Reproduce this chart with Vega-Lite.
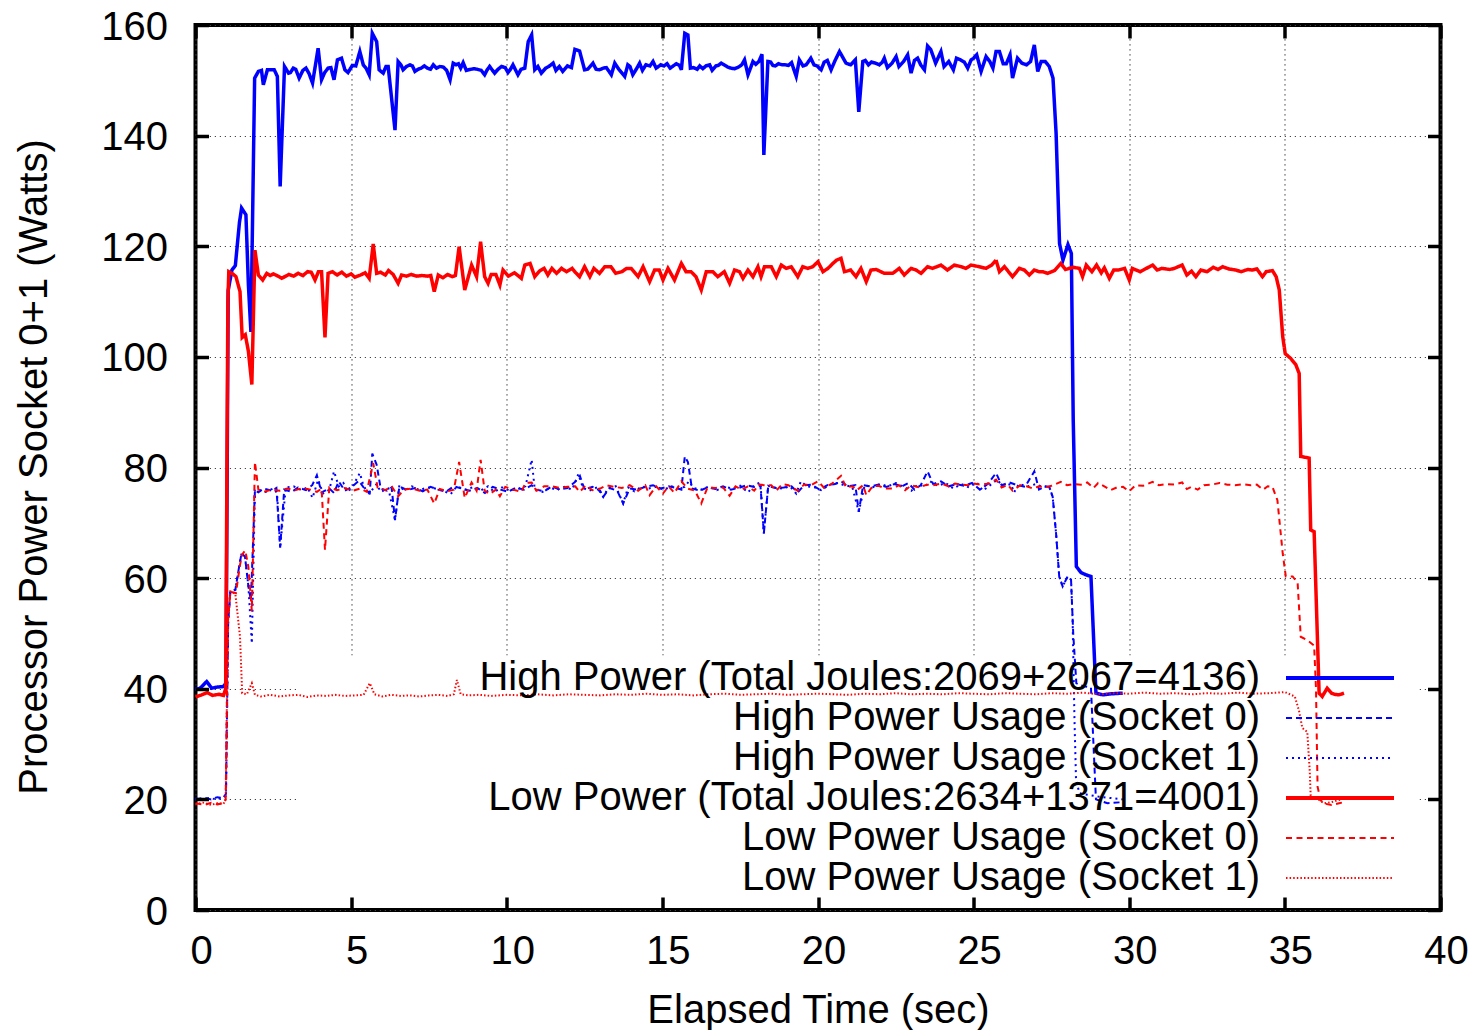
{
"$schema":"https://vega.github.io/schema/vega-lite/v6.json",
"width":1245,"height":885,
"autosize":{"type":"none"},
"padding":{"left":195.5,"top":25,"right":33.5,"bottom":120},
"background":"white",
"config":{
 "font":"Liberation Sans",
 "view":{"stroke":"black","strokeWidth":4},
 "axis":{"labelFont":"Liberation Sans","titleFont":"Liberation Sans","labelFontSize":40,"titleFontSize":40,"labelColor":"black","titleColor":"black","titleFontWeight":"normal","tickColor":"black","tickWidth":3.5,"tickSize":-13,"domain":false,"labelFlush":false,"labelOverlap":false,"gridColor":"#444444","gridDash":[1.2,3.8],"gridWidth":1.2,"gridOpacity":1}
},
"data":{"values":[
{"s":"H","t":0,"w":39.9},{"s":"H","t":0.15,"w":40.1},{"s":"H","t":0.36,"w":41.3},{"s":"H","t":0.52,"w":40.1},{"s":"H","t":0.7,"w":40.3},{"s":"H","t":0.89,"w":40.4},{"s":"H","t":0.98,"w":41.0},{"s":"H","t":1.05,"w":112},{"s":"H","t":1.17,"w":115.7},{"s":"H","t":1.28,"w":116.5},{"s":"H","t":1.41,"w":124.2},{"s":"H","t":1.48,"w":126.9},{"s":"H","t":1.62,"w":125.7},{"s":"H","t":1.7,"w":113},{"s":"H","t":1.78,"w":104.5},{"s":"H","t":1.9,"w":150.4},{"s":"H","t":2.02,"w":151.6},{"s":"H","t":2.12,"w":151.8},{"s":"H","t":2.18,"w":149.2},{"s":"H","t":2.31,"w":151.9},{"s":"H","t":2.42,"w":151.9},{"s":"H","t":2.53,"w":151.9},{"s":"H","t":2.63,"w":150.7},{"s":"H","t":2.72,"w":130.8},{"s":"H","t":2.86,"w":152.5},{"s":"H","t":2.99,"w":151.3},{"s":"H","t":3.05,"w":151.4},{"s":"H","t":3.14,"w":152.2},{"s":"H","t":3.22,"w":152},{"s":"H","t":3.33,"w":150.4},{"s":"H","t":3.45,"w":151.8},{"s":"H","t":3.55,"w":152.2},{"s":"H","t":3.65,"w":151.2},{"s":"H","t":3.76,"w":149.5},{"s":"H","t":3.94,"w":155.8},{"s":"H","t":4.05,"w":150.1},{"s":"H","t":4.15,"w":151.4},{"s":"H","t":4.26,"w":152.2},{"s":"H","t":4.35,"w":152.3},{"s":"H","t":4.45,"w":150.1},{"s":"H","t":4.56,"w":153.7},{"s":"H","t":4.69,"w":154.0},{"s":"H","t":4.8,"w":151.9},{"s":"H","t":4.9,"w":151.4},{"s":"H","t":5.04,"w":152.7},{"s":"H","t":5.15,"w":152.6},{"s":"H","t":5.28,"w":155.2},{"s":"H","t":5.39,"w":152.8},{"s":"H","t":5.48,"w":152.2},{"s":"H","t":5.58,"w":151.0},{"s":"H","t":5.68,"w":158.5},{"s":"H","t":5.82,"w":157.0},{"s":"H","t":5.9,"w":151.9},{"s":"H","t":6.03,"w":151.3},{"s":"H","t":6.12,"w":152.5},{"s":"H","t":6.19,"w":152.5},{"s":"H","t":6.41,"w":141.0},{"s":"H","t":6.51,"w":153.4},{"s":"H","t":6.6,"w":152.8},{"s":"H","t":6.67,"w":151.9},{"s":"H","t":6.78,"w":152.5},{"s":"H","t":6.89,"w":152.8},{"s":"H","t":6.97,"w":152.6},{"s":"H","t":7.05,"w":151.6},{"s":"H","t":7.15,"w":152.0},{"s":"H","t":7.25,"w":152.2},{"s":"H","t":7.35,"w":152.6},{"s":"H","t":7.45,"w":152.2},{"s":"H","t":7.55,"w":152.0},{"s":"H","t":7.64,"w":152.8},{"s":"H","t":7.74,"w":152.2},{"s":"H","t":7.85,"w":152.5},{"s":"H","t":7.96,"w":152.4},{"s":"H","t":8.07,"w":151.8},{"s":"H","t":8.18,"w":150.1},{"s":"H","t":8.28,"w":153.1},{"s":"H","t":8.37,"w":152.8},{"s":"H","t":8.45,"w":153.0},{"s":"H","t":8.52,"w":152.2},{"s":"H","t":8.6,"w":153.2},{"s":"H","t":8.7,"w":151.8},{"s":"H","t":8.85,"w":152.0},{"s":"H","t":8.95,"w":152.1},{"s":"H","t":9.05,"w":152.0},{"s":"H","t":9.18,"w":151.8},{"s":"H","t":9.29,"w":151.0},{"s":"H","t":9.36,"w":151.8},{"s":"H","t":9.45,"w":152.5},{"s":"H","t":9.61,"w":151.3},{"s":"H","t":9.72,"w":152.0},{"s":"H","t":9.83,"w":152.5},{"s":"H","t":9.95,"w":152.3},{"s":"H","t":10.04,"w":151.4},{"s":"H","t":10.12,"w":152.0},{"s":"H","t":10.2,"w":152.8},{"s":"H","t":10.36,"w":151.0},{"s":"H","t":10.46,"w":152.0},{"s":"H","t":10.58,"w":152.2},{"s":"H","t":10.69,"w":157.0},{"s":"H","t":10.8,"w":158.2},{"s":"H","t":10.9,"w":151.9},{"s":"H","t":11.0,"w":152.5},{"s":"H","t":11.11,"w":151.3},{"s":"H","t":11.25,"w":152.2},{"s":"H","t":11.35,"w":152.5},{"s":"H","t":11.49,"w":153.1},{"s":"H","t":11.58,"w":151.8},{"s":"H","t":11.69,"w":152.5},{"s":"H","t":11.8,"w":151.6},{"s":"H","t":11.95,"w":152.6},{"s":"H","t":12.08,"w":152.3},{"s":"H","t":12.19,"w":155.6},{"s":"H","t":12.34,"w":155.3},{"s":"H","t":12.5,"w":151.9},{"s":"H","t":12.6,"w":152.0},{"s":"H","t":12.77,"w":153.1},{"s":"H","t":12.87,"w":152.0},{"s":"H","t":12.98,"w":151.9},{"s":"H","t":13.1,"w":152.2},{"s":"H","t":13.2,"w":152.3},{"s":"H","t":13.36,"w":151.0},{"s":"H","t":13.47,"w":153.1},{"s":"H","t":13.6,"w":152.0},{"s":"H","t":13.79,"w":150.7},{"s":"H","t":13.89,"w":152.8},{"s":"H","t":13.96,"w":152.5},{"s":"H","t":14.05,"w":151.0},{"s":"H","t":14.16,"w":152.0},{"s":"H","t":14.27,"w":153.1},{"s":"H","t":14.36,"w":151.8},{"s":"H","t":14.47,"w":152.8},{"s":"H","t":14.6,"w":152.6},{"s":"H","t":14.7,"w":153.4},{"s":"H","t":14.8,"w":152.2},{"s":"H","t":14.95,"w":152.8},{"s":"H","t":15.05,"w":152.6},{"s":"H","t":15.15,"w":153.0},{"s":"H","t":15.25,"w":152.2},{"s":"H","t":15.35,"w":152.6},{"s":"H","t":15.45,"w":153.0},{"s":"H","t":15.55,"w":152.7},{"s":"H","t":15.61,"w":151.9},{"s":"H","t":15.72,"w":158.5},{"s":"H","t":15.82,"w":158.2},{"s":"H","t":15.9,"w":152.2},{"s":"H","t":16.0,"w":152.3},{"s":"H","t":16.12,"w":152.0},{"s":"H","t":16.2,"w":152.6},{"s":"H","t":16.3,"w":152.1},{"s":"H","t":16.4,"w":152.6},{"s":"H","t":16.52,"w":152.8},{"s":"H","t":16.6,"w":151.8},{"s":"H","t":16.72,"w":152.6},{"s":"H","t":16.8,"w":152.7},{"s":"H","t":16.89,"w":153.1},{"s":"H","t":16.98,"w":152.8},{"s":"H","t":17.1,"w":152.4},{"s":"H","t":17.2,"w":152.2},{"s":"H","t":17.32,"w":152.1},{"s":"H","t":17.45,"w":152.4},{"s":"H","t":17.55,"w":152.8},{"s":"H","t":17.64,"w":153.7},{"s":"H","t":17.75,"w":151.0},{"s":"H","t":17.91,"w":153.4},{"s":"H","t":18.0,"w":152.9},{"s":"H","t":18.1,"w":153.4},{"s":"H","t":18.2,"w":154.7},{"s":"H","t":18.26,"w":136.5},{"s":"H","t":18.39,"w":153.4},{"s":"H","t":18.48,"w":153.3},{"s":"H","t":18.55,"w":152.7},{"s":"H","t":18.63,"w":152.6},{"s":"H","t":18.73,"w":153.0},{"s":"H","t":18.85,"w":152.8},{"s":"H","t":18.95,"w":152.8},{"s":"H","t":19.05,"w":152.7},{"s":"H","t":19.15,"w":153.2},{"s":"H","t":19.3,"w":150.7},{"s":"H","t":19.4,"w":153.7},{"s":"H","t":19.52,"w":152.6},{"s":"H","t":19.62,"w":152.8},{"s":"H","t":19.77,"w":154.0},{"s":"H","t":19.87,"w":152.8},{"s":"H","t":19.97,"w":152.6},{"s":"H","t":20.1,"w":151.9},{"s":"H","t":20.2,"w":153.3},{"s":"H","t":20.3,"w":153.6},{"s":"H","t":20.42,"w":151.9},{"s":"H","t":20.55,"w":153.6},{"s":"H","t":20.69,"w":155.2},{"s":"H","t":20.9,"w":153.1},{"s":"H","t":21.05,"w":152.8},{"s":"H","t":21.2,"w":153.7},{"s":"H","t":21.31,"w":144.3},{"s":"H","t":21.44,"w":153.4},{"s":"H","t":21.52,"w":153.6},{"s":"H","t":21.62,"w":152.8},{"s":"H","t":21.72,"w":153.3},{"s":"H","t":21.85,"w":153.1},{"s":"H","t":21.97,"w":152.8},{"s":"H","t":22.07,"w":153.3},{"s":"H","t":22.13,"w":154.0},{"s":"H","t":22.23,"w":152.3},{"s":"H","t":22.38,"w":153.1},{"s":"H","t":22.51,"w":154.3},{"s":"H","t":22.6,"w":152.5},{"s":"H","t":22.75,"w":153.4},{"s":"H","t":22.88,"w":154.6},{"s":"H","t":22.99,"w":151.3},{"s":"H","t":23.1,"w":153.6},{"s":"H","t":23.2,"w":154.0},{"s":"H","t":23.3,"w":152.8},{"s":"H","t":23.42,"w":151.9},{"s":"H","t":23.52,"w":156.2},{"s":"H","t":23.62,"w":155.6},{"s":"H","t":23.78,"w":153.1},{"s":"H","t":23.95,"w":155.2},{"s":"H","t":24.05,"w":152.5},{"s":"H","t":24.2,"w":153.4},{"s":"H","t":24.35,"w":151.9},{"s":"H","t":24.45,"w":154.0},{"s":"H","t":24.58,"w":153.7},{"s":"H","t":24.7,"w":153.3},{"s":"H","t":24.81,"w":152.2},{"s":"H","t":24.92,"w":153.7},{"s":"H","t":25.0,"w":154.0},{"s":"H","t":25.1,"w":154.6},{"s":"H","t":25.24,"w":151.6},{"s":"H","t":25.4,"w":154.3},{"s":"H","t":25.52,"w":153.4},{"s":"H","t":25.62,"w":152.2},{"s":"H","t":25.72,"w":155.2},{"s":"H","t":25.83,"w":155.2},{"s":"H","t":25.95,"w":153.0},{"s":"H","t":26.05,"w":153.0},{"s":"H","t":26.17,"w":154.6},{"s":"H","t":26.25,"w":150.4},{"s":"H","t":26.41,"w":154.0},{"s":"H","t":26.55,"w":153.1},{"s":"H","t":26.7,"w":152.8},{"s":"H","t":26.83,"w":153.4},{"s":"H","t":26.95,"w":156.4},{"s":"H","t":27.06,"w":151.6},{"s":"H","t":27.17,"w":153.4},{"s":"H","t":27.3,"w":153.4},{"s":"H","t":27.43,"w":152.5},{"s":"H","t":27.55,"w":150.4},{"s":"H","t":27.65,"w":140.4},{"s":"H","t":27.76,"w":120.5},{"s":"H","t":27.87,"w":117.5},{"s":"H","t":28.03,"w":120.3},{"s":"H","t":28.14,"w":118.7},{"s":"H","t":28.2,"w":88.6},{"s":"H","t":28.3,"w":62.1},{"s":"H","t":28.45,"w":61.0},{"s":"H","t":28.61,"w":60.6},{"s":"H","t":28.77,"w":60.3},{"s":"H","t":28.93,"w":39.2},{"s":"H","t":29.15,"w":38.9},{"s":"H","t":29.45,"w":39.1},{"s":"H","t":29.79,"w":39.2},
{"s":"H0","t":0,"w":20.0},{"s":"H0","t":0.3,"w":20.3},{"s":"H0","t":0.5,"w":20.0},{"s":"H0","t":0.7,"w":20.4},{"s":"H0","t":0.9,"w":20.2},{"s":"H0","t":0.98,"w":21},{"s":"H0","t":1.05,"w":52},{"s":"H0","t":1.12,"w":57.6},{"s":"H0","t":1.28,"w":57.9},{"s":"H0","t":1.4,"w":62},{"s":"H0","t":1.48,"w":64.5},{"s":"H0","t":1.59,"w":63.9},{"s":"H0","t":1.7,"w":58.5},{"s":"H0","t":1.78,"w":56},{"s":"H0","t":1.91,"w":75.9},{"s":"H0","t":2.02,"w":75.5},{"s":"H0","t":2.2,"w":76.2},{"s":"H0","t":2.45,"w":75.8},{"s":"H0","t":2.6,"w":76.3},{"s":"H0","t":2.72,"w":65.5},{"s":"H0","t":2.85,"w":76.0},{"s":"H0","t":3.1,"w":75.6},{"s":"H0","t":3.3,"w":76.4},{"s":"H0","t":3.55,"w":75.9},{"s":"H0","t":3.75,"w":76.8},{"s":"H0","t":3.9,"w":78.6},{"s":"H0","t":4.05,"w":75.5},{"s":"H0","t":4.3,"w":76.2},{"s":"H0","t":4.45,"w":75.4},{"s":"H0","t":4.6,"w":77.5},{"s":"H0","t":4.8,"w":75.8},{"s":"H0","t":5.0,"w":76.4},{"s":"H0","t":5.25,"w":77.6},{"s":"H0","t":5.45,"w":76.0},{"s":"H0","t":5.6,"w":75.4},{"s":"H0","t":5.68,"w":82.5},{"s":"H0","t":5.82,"w":80.5},{"s":"H0","t":5.95,"w":76.2},{"s":"H0","t":6.15,"w":75.8},{"s":"H0","t":6.3,"w":76.4},{"s":"H0","t":6.41,"w":70.5},{"s":"H0","t":6.55,"w":76.6},{"s":"H0","t":6.8,"w":75.9},{"s":"H0","t":7.05,"w":76.3},{"s":"H0","t":7.3,"w":75.7},{"s":"H0","t":7.55,"w":76.5},{"s":"H0","t":7.8,"w":76.0},{"s":"H0","t":8.05,"w":75.6},{"s":"H0","t":8.3,"w":76.6},{"s":"H0","t":8.55,"w":76.2},{"s":"H0","t":8.8,"w":75.8},{"s":"H0","t":9.05,"w":76.3},{"s":"H0","t":9.3,"w":75.4},{"s":"H0","t":9.55,"w":76.5},{"s":"H0","t":9.8,"w":76.0},{"s":"H0","t":10.05,"w":75.6},{"s":"H0","t":10.3,"w":76.4},{"s":"H0","t":10.55,"w":76.0},{"s":"H0","t":10.8,"w":76.8},{"s":"H0","t":10.95,"w":76.0},{"s":"H0","t":11.2,"w":75.7},{"s":"H0","t":11.45,"w":76.6},{"s":"H0","t":11.7,"w":76.0},{"s":"H0","t":11.95,"w":76.3},{"s":"H0","t":12.2,"w":77.4},{"s":"H0","t":12.35,"w":78.5},{"s":"H0","t":12.5,"w":76.0},{"s":"H0","t":12.75,"w":76.5},{"s":"H0","t":13.0,"w":75.8},{"s":"H0","t":13.1,"w":74.7},{"s":"H0","t":13.3,"w":76.3},{"s":"H0","t":13.55,"w":75.8},{"s":"H0","t":13.74,"w":73.5},{"s":"H0","t":13.95,"w":76.2},{"s":"H0","t":14.2,"w":76.0},{"s":"H0","t":14.45,"w":76.5},{"s":"H0","t":14.7,"w":76.8},{"s":"H0","t":14.95,"w":76.2},{"s":"H0","t":15.2,"w":76.6},{"s":"H0","t":15.45,"w":76.3},{"s":"H0","t":15.61,"w":76.0},{"s":"H0","t":15.72,"w":82.0},{"s":"H0","t":15.82,"w":81.0},{"s":"H0","t":15.95,"w":76.2},{"s":"H0","t":16.2,"w":75.8},{"s":"H0","t":16.45,"w":76.4},{"s":"H0","t":16.7,"w":76.1},{"s":"H0","t":16.95,"w":76.6},{"s":"H0","t":17.2,"w":76.0},{"s":"H0","t":17.45,"w":76.3},{"s":"H0","t":17.7,"w":76.8},{"s":"H0","t":17.95,"w":76.5},{"s":"H0","t":18.15,"w":76.8},{"s":"H0","t":18.26,"w":68.1},{"s":"H0","t":18.4,"w":76.6},{"s":"H0","t":18.65,"w":76.3},{"s":"H0","t":18.9,"w":76.4},{"s":"H0","t":19.15,"w":76.6},{"s":"H0","t":19.35,"w":75.5},{"s":"H0","t":19.55,"w":76.8},{"s":"H0","t":19.8,"w":76.9},{"s":"H0","t":20.05,"w":76.0},{"s":"H0","t":20.3,"w":76.8},{"s":"H0","t":20.55,"w":77.0},{"s":"H0","t":20.75,"w":77.5},{"s":"H0","t":20.95,"w":76.6},{"s":"H0","t":21.2,"w":76.8},{"s":"H0","t":21.31,"w":72.0},{"s":"H0","t":21.45,"w":76.8},{"s":"H0","t":21.7,"w":76.6},{"s":"H0","t":21.95,"w":76.9},{"s":"H0","t":22.2,"w":76.5},{"s":"H0","t":22.45,"w":77.0},{"s":"H0","t":22.7,"w":76.6},{"s":"H0","t":22.9,"w":77.2},{"s":"H0","t":23.1,"w":76.0},{"s":"H0","t":23.3,"w":76.8},{"s":"H0","t":23.52,"w":79.3},{"s":"H0","t":23.7,"w":77.0},{"s":"H0","t":23.95,"w":77.5},{"s":"H0","t":24.2,"w":76.6},{"s":"H0","t":24.45,"w":77.0},{"s":"H0","t":24.7,"w":76.7},{"s":"H0","t":24.95,"w":77.2},{"s":"H0","t":25.2,"w":76.0},{"s":"H0","t":25.45,"w":77.0},{"s":"H0","t":25.72,"w":79.0},{"s":"H0","t":25.9,"w":76.8},{"s":"H0","t":26.15,"w":77.3},{"s":"H0","t":26.4,"w":76.8},{"s":"H0","t":26.65,"w":76.5},{"s":"H0","t":26.95,"w":79.3},{"s":"H0","t":27.1,"w":76.0},{"s":"H0","t":27.3,"w":76.6},{"s":"H0","t":27.43,"w":76.5},{"s":"H0","t":27.54,"w":74.7},{"s":"H0","t":27.65,"w":68},{"s":"H0","t":27.75,"w":60.3},{"s":"H0","t":27.86,"w":58.5},{"s":"H0","t":28.02,"w":60.3},{"s":"H0","t":28.13,"w":59.7},{"s":"H0","t":28.2,"w":50},{"s":"H0","t":28.3,"w":41},{"s":"H0","t":28.45,"w":40.6},{"s":"H0","t":28.6,"w":40.4},{"s":"H0","t":28.77,"w":40.2},{"s":"H0","t":28.85,"w":30},{"s":"H0","t":28.93,"w":20.0},{"s":"H0","t":29.3,"w":19.3},{"s":"H0","t":29.79,"w":19.5},
{"s":"H1","t":0,"w":20.2},{"s":"H1","t":0.25,"w":19.9},{"s":"H1","t":0.45,"w":20.3},{"s":"H1","t":0.65,"w":20.0},{"s":"H1","t":0.9,"w":20.3},{"s":"H1","t":0.98,"w":21},{"s":"H1","t":1.05,"w":52},{"s":"H1","t":1.12,"w":57.6},{"s":"H1","t":1.28,"w":57.9},{"s":"H1","t":1.4,"w":62},{"s":"H1","t":1.48,"w":64.5},{"s":"H1","t":1.59,"w":63.9},{"s":"H1","t":1.7,"w":58.5},{"s":"H1","t":1.81,"w":48.2},{"s":"H1","t":1.91,"w":75.9},{"s":"H1","t":2.02,"w":76.0},{"s":"H1","t":2.25,"w":75.6},{"s":"H1","t":2.5,"w":76.2},{"s":"H1","t":2.62,"w":75.4},{"s":"H1","t":2.72,"w":65.5},{"s":"H1","t":2.9,"w":76.4},{"s":"H1","t":3.15,"w":76.6},{"s":"H1","t":3.4,"w":75.9},{"s":"H1","t":3.6,"w":76.4},{"s":"H1","t":3.76,"w":74.5},{"s":"H1","t":3.94,"w":77.8},{"s":"H1","t":4.1,"w":75.3},{"s":"H1","t":4.3,"w":76.0},{"s":"H1","t":4.45,"w":79.3},{"s":"H1","t":4.6,"w":76.6},{"s":"H1","t":4.75,"w":77.2},{"s":"H1","t":4.9,"w":75.6},{"s":"H1","t":5.04,"w":76.5},{"s":"H1","t":5.28,"w":79.0},{"s":"H1","t":5.4,"w":76.6},{"s":"H1","t":5.58,"w":75.3},{"s":"H1","t":5.68,"w":76.0},{"s":"H1","t":5.82,"w":77.0},{"s":"H1","t":5.95,"w":75.6},{"s":"H1","t":6.2,"w":76.2},{"s":"H1","t":6.41,"w":70.5},{"s":"H1","t":6.55,"w":76.8},{"s":"H1","t":6.7,"w":75.8},{"s":"H1","t":6.95,"w":76.6},{"s":"H1","t":7.2,"w":75.9},{"s":"H1","t":7.45,"w":76.4},{"s":"H1","t":7.7,"w":76.2},{"s":"H1","t":7.95,"w":75.8},{"s":"H1","t":8.2,"w":75.2},{"s":"H1","t":8.4,"w":76.6},{"s":"H1","t":8.65,"w":76.0},{"s":"H1","t":8.9,"w":76.4},{"s":"H1","t":9.15,"w":75.8},{"s":"H1","t":9.4,"w":76.6},{"s":"H1","t":9.6,"w":75.6},{"s":"H1","t":9.85,"w":76.4},{"s":"H1","t":10.1,"w":75.8},{"s":"H1","t":10.4,"w":76.2},{"s":"H1","t":10.6,"w":76.6},{"s":"H1","t":10.7,"w":79.0},{"s":"H1","t":10.8,"w":81.4},{"s":"H1","t":10.9,"w":76.0},{"s":"H1","t":11.15,"w":75.6},{"s":"H1","t":11.4,"w":76.4},{"s":"H1","t":11.6,"w":75.9},{"s":"H1","t":11.85,"w":76.5},{"s":"H1","t":12.1,"w":76.0},{"s":"H1","t":12.3,"w":78.8},{"s":"H1","t":12.45,"w":76.3},{"s":"H1","t":12.65,"w":75.8},{"s":"H1","t":12.9,"w":76.4},{"s":"H1","t":13.1,"w":74.7},{"s":"H1","t":13.25,"w":76.2},{"s":"H1","t":13.5,"w":76.6},{"s":"H1","t":13.74,"w":73.5},{"s":"H1","t":13.9,"w":76.4},{"s":"H1","t":14.1,"w":75.7},{"s":"H1","t":14.35,"w":76.6},{"s":"H1","t":14.55,"w":76.2},{"s":"H1","t":14.8,"w":76.5},{"s":"H1","t":15.05,"w":76.0},{"s":"H1","t":15.3,"w":76.6},{"s":"H1","t":15.5,"w":76.2},{"s":"H1","t":15.72,"w":76.5},{"s":"H1","t":15.85,"w":77.5},{"s":"H1","t":16.0,"w":76.3},{"s":"H1","t":16.25,"w":76.0},{"s":"H1","t":16.5,"w":76.6},{"s":"H1","t":16.75,"w":75.9},{"s":"H1","t":17.0,"w":76.5},{"s":"H1","t":17.25,"w":76.2},{"s":"H1","t":17.5,"w":76.7},{"s":"H1","t":17.75,"w":75.5},{"s":"H1","t":17.95,"w":76.8},{"s":"H1","t":18.15,"w":77.3},{"s":"H1","t":18.26,"w":68.1},{"s":"H1","t":18.4,"w":76.7},{"s":"H1","t":18.6,"w":76.4},{"s":"H1","t":18.85,"w":76.2},{"s":"H1","t":19.1,"w":76.6},{"s":"H1","t":19.3,"w":75.3},{"s":"H1","t":19.45,"w":77.5},{"s":"H1","t":19.65,"w":76.6},{"s":"H1","t":19.9,"w":76.4},{"s":"H1","t":20.1,"w":75.9},{"s":"H1","t":20.35,"w":76.8},{"s":"H1","t":20.6,"w":77.2},{"s":"H1","t":20.85,"w":76.8},{"s":"H1","t":21.1,"w":76.5},{"s":"H1","t":21.31,"w":72.0},{"s":"H1","t":21.5,"w":76.8},{"s":"H1","t":21.75,"w":76.4},{"s":"H1","t":22.0,"w":77.0},{"s":"H1","t":22.25,"w":76.6},{"s":"H1","t":22.5,"w":77.2},{"s":"H1","t":22.75,"w":76.5},{"s":"H1","t":23.0,"w":75.8},{"s":"H1","t":23.2,"w":76.9},{"s":"H1","t":23.45,"w":76.6},{"s":"H1","t":23.6,"w":77.5},{"s":"H1","t":23.85,"w":76.7},{"s":"H1","t":24.1,"w":77.2},{"s":"H1","t":24.35,"w":76.2},{"s":"H1","t":24.6,"w":77.0},{"s":"H1","t":24.85,"w":76.4},{"s":"H1","t":25.1,"w":77.3},{"s":"H1","t":25.3,"w":75.8},{"s":"H1","t":25.55,"w":76.9},{"s":"H1","t":25.75,"w":77.8},{"s":"H1","t":25.95,"w":76.6},{"s":"H1","t":26.2,"w":77.0},{"s":"H1","t":26.3,"w":75.5},{"s":"H1","t":26.45,"w":77.0},{"s":"H1","t":26.75,"w":76.6},{"s":"H1","t":27.0,"w":77.0},{"s":"H1","t":27.2,"w":76.5},{"s":"H1","t":27.43,"w":76.5},{"s":"H1","t":27.54,"w":74.7},{"s":"H1","t":27.65,"w":68},{"s":"H1","t":27.75,"w":60.3},{"s":"H1","t":27.86,"w":58.5},{"s":"H1","t":28.02,"w":60.3},{"s":"H1","t":28.13,"w":59.7},{"s":"H1","t":28.18,"w":52.4},{"s":"H1","t":28.24,"w":34.4},{"s":"H1","t":28.29,"w":23.5},{"s":"H1","t":28.4,"w":21.1},{"s":"H1","t":29.0,"w":20.5},{"s":"H1","t":29.79,"w":20.0},
{"s":"L","t":0,"w":38.5},{"s":"L","t":0.2,"w":38.9},{"s":"L","t":0.38,"w":39.3},{"s":"L","t":0.55,"w":38.8},{"s":"L","t":0.75,"w":39.0},{"s":"L","t":0.9,"w":38.8},{"s":"L","t":0.97,"w":40.0},{"s":"L","t":1.04,"w":110},{"s":"L","t":1.07,"w":115.4},{"s":"L","t":1.2,"w":115.0},{"s":"L","t":1.3,"w":114.5},{"s":"L","t":1.43,"w":111.8},{"s":"L","t":1.5,"w":103.5},{"s":"L","t":1.6,"w":104},{"s":"L","t":1.7,"w":101},{"s":"L","t":1.81,"w":95.0},{"s":"L","t":1.91,"w":119.3},{"s":"L","t":2.02,"w":114.8},{"s":"L","t":2.16,"w":113.9},{"s":"L","t":2.29,"w":115.1},{"s":"L","t":2.4,"w":114.7},{"s":"L","t":2.5,"w":115.0},{"s":"L","t":2.65,"w":114.6},{"s":"L","t":2.77,"w":114.2},{"s":"L","t":2.9,"w":114.6},{"s":"L","t":3.0,"w":114.9},{"s":"L","t":3.15,"w":114.6},{"s":"L","t":3.3,"w":115.1},{"s":"L","t":3.45,"w":114.7},{"s":"L","t":3.6,"w":115.4},{"s":"L","t":3.72,"w":115.3},{"s":"L","t":3.84,"w":113.9},{"s":"L","t":3.95,"w":115.4},{"s":"L","t":4.05,"w":115.4},{"s":"L","t":4.16,"w":103.5},{"s":"L","t":4.26,"w":115.1},{"s":"L","t":4.4,"w":115.4},{"s":"L","t":4.55,"w":114.8},{"s":"L","t":4.7,"w":115.3},{"s":"L","t":4.85,"w":114.6},{"s":"L","t":5.0,"w":115.0},{"s":"L","t":5.12,"w":114.4},{"s":"L","t":5.3,"w":114.8},{"s":"L","t":5.45,"w":115.2},{"s":"L","t":5.58,"w":114.2},{"s":"L","t":5.71,"w":120.4},{"s":"L","t":5.82,"w":115.1},{"s":"L","t":5.95,"w":115.3},{"s":"L","t":6.1,"w":114.8},{"s":"L","t":6.2,"w":115.6},{"s":"L","t":6.35,"w":114.9},{"s":"L","t":6.51,"w":113.3},{"s":"L","t":6.62,"w":114.8},{"s":"L","t":6.78,"w":114.6},{"s":"L","t":6.93,"w":114.9},{"s":"L","t":7.1,"w":114.6},{"s":"L","t":7.28,"w":114.7},{"s":"L","t":7.45,"w":114.6},{"s":"L","t":7.56,"w":114.7},{"s":"L","t":7.67,"w":111.8},{"s":"L","t":7.8,"w":114.8},{"s":"L","t":7.95,"w":114.3},{"s":"L","t":8.1,"w":114.9},{"s":"L","t":8.25,"w":114.5},{"s":"L","t":8.35,"w":114.7},{"s":"L","t":8.47,"w":119.9},{"s":"L","t":8.65,"w":112.1},{"s":"L","t":8.87,"w":116.6},{"s":"L","t":9.03,"w":114.5},{"s":"L","t":9.16,"w":120.8},{"s":"L","t":9.29,"w":114.5},{"s":"L","t":9.4,"w":113.3},{"s":"L","t":9.5,"w":114.9},{"s":"L","t":9.65,"w":114.9},{"s":"L","t":9.78,"w":113.0},{"s":"L","t":9.88,"w":115.7},{"s":"L","t":10.05,"w":114.6},{"s":"L","t":10.25,"w":115.2},{"s":"L","t":10.47,"w":114.2},{"s":"L","t":10.58,"w":116.6},{"s":"L","t":10.75,"w":116.9},{"s":"L","t":10.9,"w":114.5},{"s":"L","t":11.05,"w":115.5},{"s":"L","t":11.2,"w":116.0},{"s":"L","t":11.32,"w":114.8},{"s":"L","t":11.45,"w":116.0},{"s":"L","t":11.6,"w":115.1},{"s":"L","t":11.76,"w":116.0},{"s":"L","t":11.92,"w":115.4},{"s":"L","t":12.1,"w":116.0},{"s":"L","t":12.2,"w":115.3},{"s":"L","t":12.34,"w":114.5},{"s":"L","t":12.5,"w":116.3},{"s":"L","t":12.67,"w":114.5},{"s":"L","t":12.8,"w":116.0},{"s":"L","t":12.98,"w":115.1},{"s":"L","t":13.15,"w":116.3},{"s":"L","t":13.35,"w":116.3},{"s":"L","t":13.5,"w":115.1},{"s":"L","t":13.7,"w":115.4},{"s":"L","t":13.85,"w":116.0},{"s":"L","t":14.0,"w":116.0},{"s":"L","t":14.22,"w":114.5},{"s":"L","t":14.38,"w":116.3},{"s":"L","t":14.59,"w":113.6},{"s":"L","t":14.75,"w":115.7},{"s":"L","t":14.9,"w":115.7},{"s":"L","t":15.02,"w":113.9},{"s":"L","t":15.18,"w":116.0},{"s":"L","t":15.39,"w":113.9},{"s":"L","t":15.61,"w":116.9},{"s":"L","t":15.76,"w":115.4},{"s":"L","t":15.92,"w":115.4},{"s":"L","t":16.08,"w":114.5},{"s":"L","t":16.25,"w":112.1},{"s":"L","t":16.41,"w":115.4},{"s":"L","t":16.62,"w":115.4},{"s":"L","t":16.78,"w":114.5},{"s":"L","t":16.99,"w":115.4},{"s":"L","t":17.16,"w":113.3},{"s":"L","t":17.32,"w":115.7},{"s":"L","t":17.48,"w":115.4},{"s":"L","t":17.59,"w":114.2},{"s":"L","t":17.75,"w":115.7},{"s":"L","t":17.91,"w":114.5},{"s":"L","t":18.07,"w":116.3},{"s":"L","t":18.17,"w":114.5},{"s":"L","t":18.28,"w":116.3},{"s":"L","t":18.5,"w":116.3},{"s":"L","t":18.66,"w":114.5},{"s":"L","t":18.82,"w":116.6},{"s":"L","t":18.98,"w":116.0},{"s":"L","t":19.14,"w":116.3},{"s":"L","t":19.35,"w":114.5},{"s":"L","t":19.51,"w":116.3},{"s":"L","t":19.67,"w":116.0},{"s":"L","t":19.83,"w":116.3},{"s":"L","t":20.0,"w":117.2},{"s":"L","t":20.16,"w":115.4},{"s":"L","t":20.32,"w":116.0},{"s":"L","t":20.48,"w":116.9},{"s":"L","t":20.6,"w":117.5},{"s":"L","t":20.74,"w":117.8},{"s":"L","t":20.85,"w":115.4},{"s":"L","t":21.05,"w":115.7},{"s":"L","t":21.22,"w":114.5},{"s":"L","t":21.38,"w":116.0},{"s":"L","t":21.55,"w":113.6},{"s":"L","t":21.7,"w":115.7},{"s":"L","t":21.87,"w":115.8},{"s":"L","t":22.13,"w":115.1},{"s":"L","t":22.4,"w":115.1},{"s":"L","t":22.61,"w":116.0},{"s":"L","t":22.77,"w":114.8},{"s":"L","t":22.99,"w":116.0},{"s":"L","t":23.15,"w":115.7},{"s":"L","t":23.31,"w":115.1},{"s":"L","t":23.52,"w":116.3},{"s":"L","t":23.68,"w":116.0},{"s":"L","t":23.95,"w":116.6},{"s":"L","t":24.16,"w":115.7},{"s":"L","t":24.38,"w":116.6},{"s":"L","t":24.6,"w":116.3},{"s":"L","t":24.75,"w":116.0},{"s":"L","t":24.92,"w":116.6},{"s":"L","t":25.18,"w":116.3},{"s":"L","t":25.4,"w":116.0},{"s":"L","t":25.58,"w":116.6},{"s":"L","t":25.72,"w":117.5},{"s":"L","t":25.83,"w":115.4},{"s":"L","t":25.99,"w":116.3},{"s":"L","t":26.25,"w":114.5},{"s":"L","t":26.47,"w":116.0},{"s":"L","t":26.63,"w":115.7},{"s":"L","t":26.79,"w":114.8},{"s":"L","t":26.95,"w":115.7},{"s":"L","t":27.1,"w":115.4},{"s":"L","t":27.22,"w":115.4},{"s":"L","t":27.38,"w":115.1},{"s":"L","t":27.6,"w":115.6},{"s":"L","t":27.8,"w":116.9},{"s":"L","t":27.95,"w":115.8},{"s":"L","t":28.2,"w":116.2},{"s":"L","t":28.4,"w":116.0},{"s":"L","t":28.5,"w":114.5},{"s":"L","t":28.62,"w":116.6},{"s":"L","t":28.8,"w":115.4},{"s":"L","t":28.95,"w":116.6},{"s":"L","t":29.1,"w":115.2},{"s":"L","t":29.2,"w":116.1},{"s":"L","t":29.36,"w":114.2},{"s":"L","t":29.5,"w":115.7},{"s":"L","t":29.65,"w":115.7},{"s":"L","t":29.85,"w":116.0},{"s":"L","t":30.0,"w":113.9},{"s":"L","t":30.1,"w":116.0},{"s":"L","t":30.35,"w":115.4},{"s":"L","t":30.55,"w":116.0},{"s":"L","t":30.75,"w":116.6},{"s":"L","t":30.9,"w":115.7},{"s":"L","t":31.05,"w":116.0},{"s":"L","t":31.3,"w":115.8},{"s":"L","t":31.45,"w":116.0},{"s":"L","t":31.7,"w":116.6},{"s":"L","t":31.85,"w":114.8},{"s":"L","t":32.0,"w":115.5},{"s":"L","t":32.14,"w":114.5},{"s":"L","t":32.3,"w":115.7},{"s":"L","t":32.5,"w":115.4},{"s":"L","t":32.7,"w":116.2},{"s":"L","t":32.85,"w":115.8},{"s":"L","t":33.0,"w":116.3},{"s":"L","t":33.2,"w":115.9},{"s":"L","t":33.42,"w":115.7},{"s":"L","t":33.6,"w":115.4},{"s":"L","t":33.8,"w":115.8},{"s":"L","t":33.95,"w":115.7},{"s":"L","t":34.1,"w":115.9},{"s":"L","t":34.28,"w":114.5},{"s":"L","t":34.4,"w":115.4},{"s":"L","t":34.6,"w":115.6},{"s":"L","t":34.72,"w":114.5},{"s":"L","t":34.82,"w":112.1},{"s":"L","t":34.93,"w":103.7},{"s":"L","t":35.01,"w":100.6},{"s":"L","t":35.19,"w":99.7},{"s":"L","t":35.35,"w":98.6},{"s":"L","t":35.46,"w":97.0},{"s":"L","t":35.51,"w":82.0},{"s":"L","t":35.78,"w":81.7},{"s":"L","t":35.83,"w":68.7},{"s":"L","t":35.94,"w":68.4},{"s":"L","t":36.1,"w":39.2},{"s":"L","t":36.2,"w":38.6},{"s":"L","t":36.36,"w":40.1},{"s":"L","t":36.5,"w":39.2},{"s":"L","t":36.6,"w":39.0},{"s":"L","t":36.74,"w":38.9},{"s":"L","t":36.9,"w":39.2},
{"s":"L0","t":0,"w":19.3},{"s":"L0","t":0.3,"w":19.0},{"s":"L0","t":0.5,"w":19.4},{"s":"L0","t":0.7,"w":19.1},{"s":"L0","t":0.9,"w":19.3},{"s":"L0","t":0.97,"w":20},{"s":"L0","t":1.04,"w":52},{"s":"L0","t":1.12,"w":57.5},{"s":"L0","t":1.3,"w":57.3},{"s":"L0","t":1.43,"w":62.4},{"s":"L0","t":1.5,"w":64.3},{"s":"L0","t":1.6,"w":65},{"s":"L0","t":1.7,"w":62},{"s":"L0","t":1.81,"w":54},{"s":"L0","t":1.91,"w":81.0},{"s":"L0","t":2.02,"w":76.0},{"s":"L0","t":2.2,"w":75.6},{"s":"L0","t":2.45,"w":76.0},{"s":"L0","t":2.7,"w":75.8},{"s":"L0","t":2.95,"w":76.2},{"s":"L0","t":3.2,"w":75.9},{"s":"L0","t":3.45,"w":76.3},{"s":"L0","t":3.7,"w":76.0},{"s":"L0","t":3.9,"w":75.6},{"s":"L0","t":4.05,"w":76.2},{"s":"L0","t":4.16,"w":65.1},{"s":"L0","t":4.3,"w":76.4},{"s":"L0","t":4.55,"w":75.9},{"s":"L0","t":4.8,"w":76.3},{"s":"L0","t":5.05,"w":75.8},{"s":"L0","t":5.3,"w":76.2},{"s":"L0","t":5.5,"w":75.6},{"s":"L0","t":5.71,"w":80.8},{"s":"L0","t":5.85,"w":76.4},{"s":"L0","t":6.1,"w":75.9},{"s":"L0","t":6.3,"w":76.6},{"s":"L0","t":6.51,"w":74.8},{"s":"L0","t":6.7,"w":76.0},{"s":"L0","t":6.95,"w":76.2},{"s":"L0","t":7.2,"w":75.8},{"s":"L0","t":7.45,"w":76.0},{"s":"L0","t":7.67,"w":73.5},{"s":"L0","t":7.85,"w":76.1},{"s":"L0","t":8.1,"w":75.7},{"s":"L0","t":8.3,"w":76.0},{"s":"L0","t":8.47,"w":81.0},{"s":"L0","t":8.65,"w":74.5},{"s":"L0","t":8.87,"w":77.3},{"s":"L0","t":9.03,"w":75.8},{"s":"L0","t":9.16,"w":81.4},{"s":"L0","t":9.29,"w":75.8},{"s":"L0","t":9.45,"w":75.2},{"s":"L0","t":9.65,"w":76.0},{"s":"L0","t":9.78,"w":74.8},{"s":"L0","t":9.95,"w":76.5},{"s":"L0","t":10.2,"w":76.0},{"s":"L0","t":10.47,"w":75.6},{"s":"L0","t":10.6,"w":77.2},{"s":"L0","t":10.8,"w":77.3},{"s":"L0","t":10.95,"w":75.8},{"s":"L0","t":11.2,"w":76.6},{"s":"L0","t":11.45,"w":76.6},{"s":"L0","t":11.7,"w":76.3},{"s":"L0","t":11.95,"w":76.5},{"s":"L0","t":12.2,"w":76.6},{"s":"L0","t":12.34,"w":75.6},{"s":"L0","t":12.55,"w":76.8},{"s":"L0","t":12.75,"w":75.9},{"s":"L0","t":13.0,"w":76.2},{"s":"L0","t":13.2,"w":76.8},{"s":"L0","t":13.45,"w":76.5},{"s":"L0","t":13.7,"w":76.3},{"s":"L0","t":13.95,"w":76.8},{"s":"L0","t":14.22,"w":75.8},{"s":"L0","t":14.45,"w":76.8},{"s":"L0","t":14.59,"w":75.0},{"s":"L0","t":14.8,"w":76.6},{"s":"L0","t":15.02,"w":75.3},{"s":"L0","t":15.2,"w":76.6},{"s":"L0","t":15.39,"w":75.4},{"s":"L0","t":15.61,"w":77.5},{"s":"L0","t":15.8,"w":76.2},{"s":"L0","t":16.05,"w":75.8},{"s":"L0","t":16.25,"w":73.5},{"s":"L0","t":16.45,"w":76.4},{"s":"L0","t":16.7,"w":76.3},{"s":"L0","t":16.95,"w":76.4},{"s":"L0","t":17.16,"w":74.9},{"s":"L0","t":17.35,"w":76.6},{"s":"L0","t":17.55,"w":76.0},{"s":"L0","t":17.75,"w":76.6},{"s":"L0","t":17.95,"w":75.8},{"s":"L0","t":18.1,"w":76.9},{"s":"L0","t":18.3,"w":76.8},{"s":"L0","t":18.5,"w":76.8},{"s":"L0","t":18.66,"w":75.8},{"s":"L0","t":18.85,"w":77.0},{"s":"L0","t":19.05,"w":76.8},{"s":"L0","t":19.35,"w":75.8},{"s":"L0","t":19.55,"w":76.9},{"s":"L0","t":19.8,"w":76.9},{"s":"L0","t":20.0,"w":77.5},{"s":"L0","t":20.2,"w":76.3},{"s":"L0","t":20.45,"w":77.1},{"s":"L0","t":20.6,"w":77.8},{"s":"L0","t":20.74,"w":78.5},{"s":"L0","t":20.9,"w":76.4},{"s":"L0","t":21.1,"w":76.6},{"s":"L0","t":21.25,"w":75.9},{"s":"L0","t":21.45,"w":76.8},{"s":"L0","t":21.55,"w":75.0},{"s":"L0","t":21.75,"w":76.6},{"s":"L0","t":21.95,"w":76.7},{"s":"L0","t":22.15,"w":76.2},{"s":"L0","t":22.4,"w":76.2},{"s":"L0","t":22.6,"w":76.8},{"s":"L0","t":22.8,"w":75.9},{"s":"L0","t":23.0,"w":76.8},{"s":"L0","t":23.25,"w":76.4},{"s":"L0","t":23.5,"w":76.9},{"s":"L0","t":23.7,"w":76.8},{"s":"L0","t":23.95,"w":77.1},{"s":"L0","t":24.2,"w":76.6},{"s":"L0","t":24.4,"w":77.1},{"s":"L0","t":24.6,"w":76.9},{"s":"L0","t":24.8,"w":76.8},{"s":"L0","t":25.0,"w":77.1},{"s":"L0","t":25.25,"w":76.9},{"s":"L0","t":25.5,"w":77.1},{"s":"L0","t":25.72,"w":77.8},{"s":"L0","t":25.9,"w":76.4},{"s":"L0","t":26.1,"w":76.9},{"s":"L0","t":26.25,"w":75.8},{"s":"L0","t":26.5,"w":76.8},{"s":"L0","t":26.7,"w":76.6},{"s":"L0","t":26.9,"w":76.2},{"s":"L0","t":27.1,"w":76.6},{"s":"L0","t":27.3,"w":76.4},{"s":"L0","t":27.5,"w":76.7},{"s":"L0","t":27.8,"w":77.4},{"s":"L0","t":28.0,"w":76.8},{"s":"L0","t":28.2,"w":77.0},{"s":"L0","t":28.45,"w":76.9},{"s":"L0","t":28.65,"w":77.3},{"s":"L0","t":28.85,"w":76.3},{"s":"L0","t":29.0,"w":77.2},{"s":"L0","t":29.2,"w":76.6},{"s":"L0","t":29.4,"w":75.9},{"s":"L0","t":29.6,"w":76.4},{"s":"L0","t":29.8,"w":76.5},{"s":"L0","t":30.0,"w":75.7},{"s":"L0","t":30.2,"w":76.8},{"s":"L0","t":30.45,"w":76.7},{"s":"L0","t":30.75,"w":77.4},{"s":"L0","t":30.95,"w":76.8},{"s":"L0","t":31.2,"w":77.0},{"s":"L0","t":31.45,"w":76.9},{"s":"L0","t":31.7,"w":77.3},{"s":"L0","t":31.85,"w":76.1},{"s":"L0","t":32.0,"w":76.5},{"s":"L0","t":32.2,"w":76.0},{"s":"L0","t":32.4,"w":76.8},{"s":"L0","t":32.65,"w":76.9},{"s":"L0","t":32.9,"w":77.2},{"s":"L0","t":33.15,"w":76.9},{"s":"L0","t":33.4,"w":76.8},{"s":"L0","t":33.65,"w":77.0},{"s":"L0","t":33.9,"w":76.8},{"s":"L0","t":34.1,"w":76.9},{"s":"L0","t":34.3,"w":76.0},{"s":"L0","t":34.45,"w":76.6},{"s":"L0","t":34.6,"w":76.5},{"s":"L0","t":34.76,"w":74.1},{"s":"L0","t":34.93,"w":64.5},{"s":"L0","t":35.03,"w":60.3},{"s":"L0","t":35.25,"w":60.3},{"s":"L0","t":35.41,"w":59.1},{"s":"L0","t":35.51,"w":49.4},{"s":"L0","t":35.72,"w":48.8},{"s":"L0","t":35.94,"w":47.8},{"s":"L0","t":36.0,"w":40.0},{"s":"L0","t":36.05,"w":22.3},{"s":"L0","t":36.15,"w":19.8},{"s":"L0","t":36.3,"w":19.2},{"s":"L0","t":36.5,"w":19.0},{"s":"L0","t":36.74,"w":19.3},{"s":"L0","t":36.9,"w":19.5},
{"s":"L1","t":0,"w":19.1},{"s":"L1","t":0.25,"w":19.4},{"s":"L1","t":0.5,"w":19.0},{"s":"L1","t":0.7,"w":19.3},{"s":"L1","t":0.9,"w":19.2},{"s":"L1","t":0.97,"w":20},{"s":"L1","t":1.04,"w":52},{"s":"L1","t":1.12,"w":57.6},{"s":"L1","t":1.28,"w":57.2},{"s":"L1","t":1.43,"w":49.4},{"s":"L1","t":1.5,"w":39.2},{"s":"L1","t":1.65,"w":39.0},{"s":"L1","t":1.81,"w":41.0},{"s":"L1","t":1.91,"w":38.9},{"s":"L1","t":2.1,"w":38.6},{"s":"L1","t":2.4,"w":38.9},{"s":"L1","t":2.7,"w":38.6},{"s":"L1","t":3.0,"w":38.8},{"s":"L1","t":3.3,"w":38.9},{"s":"L1","t":3.6,"w":38.5},{"s":"L1","t":3.9,"w":38.8},{"s":"L1","t":4.2,"w":38.7},{"s":"L1","t":4.5,"w":38.9},{"s":"L1","t":4.8,"w":38.7},{"s":"L1","t":5.1,"w":38.8},{"s":"L1","t":5.4,"w":38.9},{"s":"L1","t":5.6,"w":41.0},{"s":"L1","t":5.75,"w":39.0},{"s":"L1","t":6.0,"w":38.6},{"s":"L1","t":6.3,"w":38.9},{"s":"L1","t":6.6,"w":38.7},{"s":"L1","t":6.9,"w":38.8},{"s":"L1","t":7.2,"w":38.6},{"s":"L1","t":7.5,"w":38.8},{"s":"L1","t":7.8,"w":38.9},{"s":"L1","t":8.1,"w":38.7},{"s":"L1","t":8.3,"w":39.0},{"s":"L1","t":8.4,"w":41.6},{"s":"L1","t":8.52,"w":39.0},{"s":"L1","t":8.8,"w":38.8},{"s":"L1","t":9.1,"w":38.9},{"s":"L1","t":9.5,"w":38.7},{"s":"L1","t":10.0,"w":38.9},{"s":"L1","t":10.5,"w":38.8},{"s":"L1","t":11.0,"w":39.0},{"s":"L1","t":11.5,"w":38.8},{"s":"L1","t":12.0,"w":39.0},{"s":"L1","t":12.5,"w":38.9},{"s":"L1","t":13.0,"w":38.8},{"s":"L1","t":13.5,"w":39.0},{"s":"L1","t":14.0,"w":38.9},{"s":"L1","t":14.5,"w":39.1},{"s":"L1","t":15.0,"w":38.9},{"s":"L1","t":15.5,"w":39.0},{"s":"L1","t":16.0,"w":38.8},{"s":"L1","t":16.5,"w":39.0},{"s":"L1","t":17.0,"w":39.1},{"s":"L1","t":17.5,"w":38.9},{"s":"L1","t":18.0,"w":39.0},{"s":"L1","t":18.5,"w":39.1},{"s":"L1","t":19.0,"w":38.9},{"s":"L1","t":19.5,"w":39.0},{"s":"L1","t":20.0,"w":39.1},{"s":"L1","t":20.5,"w":39.0},{"s":"L1","t":21.0,"w":38.9},{"s":"L1","t":21.5,"w":39.1},{"s":"L1","t":22.0,"w":39.0},{"s":"L1","t":22.5,"w":39.2},{"s":"L1","t":23.0,"w":39.0},{"s":"L1","t":23.5,"w":39.1},{"s":"L1","t":24.0,"w":39.0},{"s":"L1","t":24.5,"w":39.2},{"s":"L1","t":25.0,"w":39.1},{"s":"L1","t":25.5,"w":39.0},{"s":"L1","t":26.0,"w":39.2},{"s":"L1","t":26.5,"w":39.1},{"s":"L1","t":27.0,"w":39.0},{"s":"L1","t":27.5,"w":39.2},{"s":"L1","t":28.0,"w":39.1},{"s":"L1","t":28.5,"w":39.3},{"s":"L1","t":29.0,"w":39.0},{"s":"L1","t":29.5,"w":39.2},{"s":"L1","t":30.0,"w":39.1},{"s":"L1","t":30.5,"w":39.3},{"s":"L1","t":31.0,"w":39.1},{"s":"L1","t":31.5,"w":39.2},{"s":"L1","t":32.0,"w":39.0},{"s":"L1","t":32.5,"w":39.2},{"s":"L1","t":33.0,"w":39.1},{"s":"L1","t":33.5,"w":39.3},{"s":"L1","t":34.0,"w":39.1},{"s":"L1","t":34.5,"w":39.2},{"s":"L1","t":35.0,"w":39.4},{"s":"L1","t":35.32,"w":38.6},{"s":"L1","t":35.46,"w":35.9},{"s":"L1","t":35.56,"w":32.9},{"s":"L1","t":35.72,"w":32.2},{"s":"L1","t":35.8,"w":25},{"s":"L1","t":35.83,"w":20.5},{"s":"L1","t":36.0,"w":20.3},{"s":"L1","t":36.25,"w":19.3},{"s":"L1","t":36.5,"w":19.5},{"s":"L1","t":36.74,"w":19.9},{"s":"L1","t":36.9,"w":20.2}
]},
"layer":[
 {
  "data":{"values":[{}]},
  "mark":{"type":"rect","fill":"white","stroke":null},
  "encoding":{
   "x":{"datum":3.3,"type":"quantitative","scale":{"domain":[0,40],"nice":false},"axis":{"orient":"top","grid":true,"labels":false,"title":null,"values":[0,5,10,15,20,25,30,35,40],"zindex":0}},
   "x2":{"datum":39.3},
   "y":{"datum":0.45,"type":"quantitative","scale":{"domain":[0,160],"nice":false},"axis":{"orient":"right","grid":true,"labels":false,"title":null,"values":[0,20,40,60,80,100,120,140,160],"zindex":0}},
   "y2":{"datum":46}
  }
 },
 {
  "mark":{"type":"line","strokeCap":"butt"},
  "encoding":{
   "x":{"field":"t","type":"quantitative","scale":{"domain":[0,40],"nice":false},"axis":{"orient":"bottom","grid":false,"values":[0,5,10,15,20,25,30,35,40],"labelOffset":5.5,"labelPadding":66.6,"labelBaseline":"alphabetic","title":"Elapsed Time (sec)","titleX":622.5,"titleY":112,"titleBaseline":"alphabetic","zindex":1}},
   "y":{"field":"w","type":"quantitative","scale":{"domain":[0,160],"nice":false},"axis":{"orient":"left","grid":false,"values":[0,20,40,60,80,100,120,140,160],"labelPadding":41,"labelBaseline":"alphabetic","labelOffset":14,"title":"Processor Power Socket 0+1 (Watts)","titleX":-149,"titleY":441.5,"titleAngle":270,"titleBaseline":"alphabetic","zindex":1}},
   "color":{"field":"s","type":"nominal","scale":{"domain":["H","H0","H1","L","L0","L1"],"range":["#0000ff","#0000ff","#0000ff","#ff0000","#ff0000","#ff0000"]},
     "legend":{"title":null,"orient":"none","legendX":1124.5,"legendY":633,"padding":0,"rowPadding":0,"symbolType":"stroke","symbolSize":11664,"symbolStrokeWidth":2,"labelAlign":"right","labelOffset":-100,"labelLimit":3000,"labelFontSize":40,"labelFont":"Liberation Sans","labelColor":"black","labelBaseline":"middle",
       "labelExpr":"datum.value === 'H' ? 'High Power (Total Joules:2069+2067=4136)' : datum.value === 'H0' ? 'High Power Usage (Socket 0)' : datum.value === 'H1' ? 'High Power Usage (Socket 1)' : datum.value === 'L' ? 'Low Power (Total Joules:2634+1371=4001)' : datum.value === 'L0' ? 'Low Power Usage (Socket 0)' : 'Low Power Usage (Socket 1)'",
       "encode":{"symbols":{"update":{"strokeWidth":{"signal":"datum.value === 'H' || datum.value === 'L' ? 4 : 2"}}}}}},
   "strokeDash":{"field":"s","type":"nominal","scale":{"domain":["H","H0","H1","L","L0","L1"],"range":[[1,0],[6,4],[2,4],[1,0],[6,4.5],[1.5,2.1]]},
     "legend":{"title":null,"orient":"none","legendX":1124.5,"legendY":633,"padding":0,"rowPadding":0,"symbolType":"stroke","symbolSize":11664,"symbolStrokeWidth":2,"labelAlign":"right","labelOffset":-100,"labelLimit":3000,"labelFontSize":40,"labelFont":"Liberation Sans","labelColor":"black","labelBaseline":"middle",
       "labelExpr":"datum.value === 'H' ? 'High Power (Total Joules:2069+2067=4136)' : datum.value === 'H0' ? 'High Power Usage (Socket 0)' : datum.value === 'H1' ? 'High Power Usage (Socket 1)' : datum.value === 'L' ? 'Low Power (Total Joules:2634+1371=4001)' : datum.value === 'L0' ? 'Low Power Usage (Socket 0)' : 'Low Power Usage (Socket 1)'",
       "encode":{"symbols":{"update":{"strokeWidth":{"signal":"datum.value === 'H' || datum.value === 'L' ? 4 : 2"}}}}}},
   "strokeWidth":{"condition":{"test":"datum.s === 'H' || datum.s === 'L'","value":3.5},"value":2}
  }
 }
],
"resolve":{"axis":{"x":"independent","y":"independent"}}
}
